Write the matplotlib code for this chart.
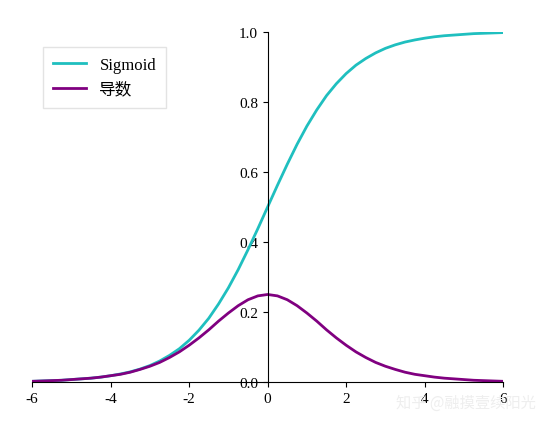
import matplotlib
matplotlib.use('Agg')
import matplotlib.pyplot as plt

plt.rcParams['font.family'] = ['Liberation Serif', 'Noto Sans CJK SC', 'DejaVu Sans']

# valores
x_vals = [-6, -5.75, -5.5, -5.25, -5, -4.75, -4.5, -4.25, -4, -3.75, -3.5, -3.25, -3,
          -2.75, -2.5, -2.25, -2, -1.75, -1.5, -1.25, -1, -0.75, -0.5, -0.25, 0,
          0.25, 0.5, 0.75, 1, 1.25, 1.5, 1.75, 2, 2.25, 2.5, 2.75, 3,
          3.25, 3.5, 3.75, 4, 4.25, 4.5, 4.75, 5, 5.25, 5.5, 5.75, 6]
sigmoid = [0.002, 0.003, 0.004, 0.005, 0.007, 0.009, 0.011, 0.014, 0.018, 0.023, 0.029, 0.037, 0.047,
           0.060, 0.076, 0.095, 0.119, 0.148, 0.182, 0.223, 0.269, 0.321, 0.378, 0.438, 0.500,
           0.562, 0.622, 0.679, 0.731, 0.777, 0.818, 0.852, 0.881, 0.905, 0.924, 0.940, 0.953,
           0.963, 0.971, 0.977, 0.982, 0.986, 0.989, 0.991, 0.993, 0.995, 0.996, 0.997, 0.998]
derivada = [0.002, 0.003, 0.004, 0.005, 0.007, 0.009, 0.011, 0.014, 0.018, 0.022, 0.028, 0.036, 0.045,
            0.056, 0.070, 0.086, 0.105, 0.126, 0.149, 0.174, 0.197, 0.218, 0.235, 0.246, 0.250,
            0.246, 0.235, 0.218, 0.197, 0.174, 0.149, 0.126, 0.105, 0.086, 0.070, 0.056, 0.045,
            0.036, 0.028, 0.022, 0.018, 0.014, 0.011, 0.009, 0.007, 0.005, 0.004, 0.003, 0.002]
x_ticks = [-6, -4, -2, 0, 2, 4, 6]
y_ticks = [0.0, 0.2, 0.4, 0.6, 0.8, 1.0]

fig = plt.figure(figsize=(5.44, 4.27), dpi=100)
ax = fig.add_axes([0.059, 0.103, 0.866, 0.82])
ax.plot(x_vals, sigmoid, color='#1fbfbf', lw=2, label='Sigmoid')
ax.plot(x_vals, derivada, color='#800080', lw=2, label='导数')

ax.set_xlim(-6, 6)
ax.set_ylim(0, 1.0)
ax.spines['right'].set_visible(False)
ax.spines['top'].set_visible(False)
ax.spines['left'].set_position(('data', 0))
ax.spines['bottom'].set_position(('data', 0))
ax.set_xticks(x_ticks)
ax.set_xticklabels([str(t) for t in x_ticks])
ax.set_yticks(y_ticks)
ax.set_yticklabels([f'{t:.1f}' for t in y_ticks])
ax.tick_params(labelsize=11)

ax.legend(loc='upper left', bbox_to_anchor=(0.005, 0.98), fontsize=12, frameon=True,
          fancybox=False, edgecolor='#dddddd', borderpad=0.6)

fig.text(0.985, 0.055, '知乎 @融摸壹续阳光', ha='right', va='center', fontsize=11,
         color='#eeeeee', family=['Noto Sans CJK SC'])

plt.savefig('out.png', dpi=100)
